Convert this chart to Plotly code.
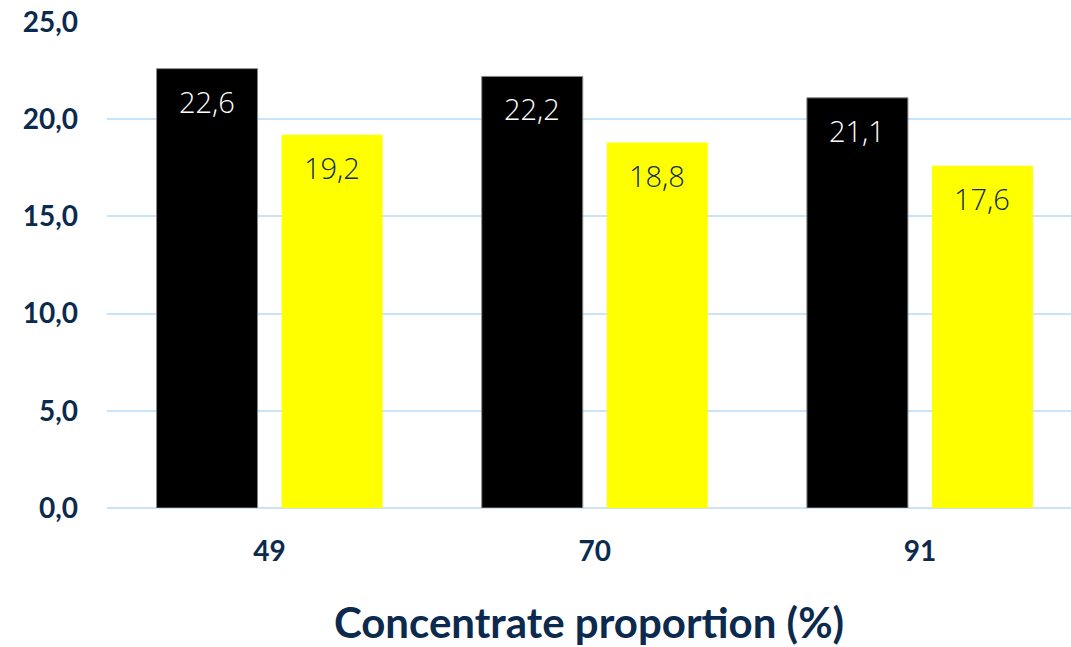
import plotly.graph_objects as go

categories = ["49", "70", "91"]
series_black = [22.6, 22.2, 21.1]
series_yellow = [19.2, 18.8, 17.6]
y_ticks = [0, 5, 10, 15, 20, 25]

NAVY = "#0b2a4d"
BARGAP = 0.231
BARGROUPGAP = 0.192

fig = go.Figure()
fig.add_trace(go.Bar(x=categories, y=series_black, marker=dict(color="#000000", line=dict(color="#888888", width=1)),
                     showlegend=False))
fig.add_trace(go.Bar(x=categories, y=series_yellow, marker=dict(color="#FFFF00", line=dict(width=0)),
                     showlegend=False))

annotations = []
group = 1 - BARGAP
offsets = [-group / 4, group / 4]
for si, (vals, col) in enumerate([(series_black, "white"), (series_yellow, NAVY)]):
    for ci, v in enumerate(vals):
        annotations.append(dict(
            x=ci + offsets[si], y=v, xref="x", yref="y",
            text=f"{v:.1f}".replace(".", ","), showarrow=False,
            yanchor="top", yshift=-11,
            font=dict(family="Open Sans", size=29, color=col, weight=300),
        ))

fig.update_layout(
    width=1071, height=647,
    margin=dict(l=107, r=0, t=22, b=139),
    paper_bgcolor="white", plot_bgcolor="white",
    barmode="group", bargap=BARGAP, bargroupgap=BARGROUPGAP,
    separators=",.",
    annotations=annotations,
    font=dict(family="Lato", color=NAVY),
    xaxis=dict(
        type="category", range=[-0.5, 2.4646],
        showgrid=False, zeroline=False, showline=False,
        tickfont=dict(family="Lato", size=28, color=NAVY, weight="bold"),
        ticks="", ticklabelstandoff=24,
        title=dict(text="Concentrate proportion (%)", standoff=50,
                   font=dict(family="Lato", size=42, color=NAVY, weight="bold")),
    ),
    yaxis=dict(
        range=[0, 25], tickvals=y_ticks, tickformat=".1f",
        showgrid=True, gridcolor="#c9e3f8", gridwidth=2,
        zeroline=True, zerolinecolor="#c9e3f8", zerolinewidth=2,
        tickfont=dict(family="Lato", size=28, color=NAVY, weight="bold"),
        ticklabelstandoff=28,
    ),
)

fig.write_html("out.html")
